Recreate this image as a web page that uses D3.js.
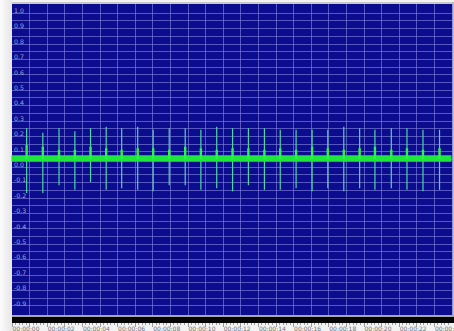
<!DOCTYPE html>
<html>
<head>
<meta charset="utf-8">
<script src="https://cdn.jsdelivr.net/npm/d3@7/dist/d3.min.js"></script>
<style>
  html, body { margin: 0; padding: 0; background: #f3f3f3; }
  svg { display: block; }
</style>
</head>
<body>
<svg id="chart" width="454" height="331"></svg>
<script>
// Amplitude axis labels (drawn every 0.1)
const ampTicks = [1.0, 0.9, 0.8, 0.7, 0.6, 0.5, 0.4, 0.3, 0.2, 0.1, 0.0,
                  -0.1, -0.2, -0.3, -0.4, -0.5, -0.6, -0.7, -0.8, -0.9];
// Timeline labels, in seconds
const timeTicks = [0, 2, 4, 6, 8, 10, 12, 14, 16, 18, 20, 22, 24];

// Pulse times (s) and their excursions
const pulseTime = [0.86, 1.78, 2.70, 3.60, 4.49, 5.38, 6.26, 7.17, 8.05, 8.96, 9.87, 10.76, 11.66, 12.56,
                   13.46, 14.37, 15.27, 16.17, 17.08, 17.97, 18.88, 19.78, 20.65, 21.58, 22.47, 23.38, 24.32];
const pulseTop = [0.20, 0.17, 0.20, 0.18, 0.20, 0.21, 0.20, 0.21, 0.19, 0.20, 0.20, 0.19, 0.21, 0.20,
                  0.20, 0.20, 0.19, 0.19, 0.19, 0.19, 0.21, 0.20, 0.19, 0.20, 0.20, 0.19, 0.19];
const pulseBottom = [-0.22, -0.22, -0.17, -0.20, -0.15, -0.20, -0.19, -0.20, -0.21, -0.17, -0.17, -0.20, -0.19, -0.21,
                     -0.17, -0.20, -0.20, -0.19, -0.21, -0.19, -0.21, -0.19, -0.20, -0.19, -0.20, -0.21, -0.20];
const pulseBump = [0.09, 0.08, 0.06, 0.06, 0.08, 0.07, 0.06, 0.07, 0.07, 0.06, 0.08, 0.07, 0.06, 0.07,
                   0.07, 0.06, 0.07, 0.06, 0.08, 0.07, 0.06, 0.07, 0.08, 0.06, 0.07, 0.06, 0.07];

// Resting signal band (low / high amplitude)
const bandLow = [-0.018];
const bandHigh = [0.024];

const svg = d3.select("#chart");
const W = 454, H = 331;
const plot = { left: 12, right: 452, top: 4, bottom: 315 };

const x = d3.scaleLinear().domain([0, 25]).range([11.5, 451.5]);
const y = d3.scaleLinear().domain([-1, 1]).range([313, 5]);

// soft left margin
const defs = svg.append("defs");
const lg = defs.append("linearGradient").attr("id", "margin").attr("x1", 0).attr("x2", 1);
lg.append("stop").attr("offset", 0).attr("stop-color", "#fbfbfb");
lg.append("stop").attr("offset", 1).attr("stop-color", "#e6e6e6");
svg.append("rect").attr("x", 0).attr("y", 0).attr("width", plot.left).attr("height", H).attr("fill", "url(#margin)");

// frame
svg.append("rect").attr("x", plot.left).attr("y", 2).attr("width", plot.right - plot.left + 2).attr("height", 2)
  .attr("fill", "#c9c9c9");

// waveform background
svg.append("rect").attr("x", plot.left).attr("y", plot.top)
  .attr("width", plot.right - plot.left).attr("height", plot.bottom - plot.top)
  .attr("fill", "#0c0c8f");

// right border
svg.append("rect").attr("x", plot.right).attr("y", 2).attr("width", 2).attr("height", plot.bottom - 2)
  .attr("fill", "#bdbdbd");

// grid
const grid = svg.append("g");
const hLines = d3.range(-20, 21).map(i => i * 0.05).filter(v => v < 0.999 && v > -0.999);
grid.selectAll("line.h").data(hLines).join("line")
  .attr("x1", plot.left).attr("x2", plot.right)
  .attr("y1", d => Math.round(y(d)) + 0.5).attr("y2", d => Math.round(y(d)) + 0.5)
  .attr("stroke", "#8080dc").attr("stroke-opacity", 0.65).attr("stroke-width", 1);
const vLines = d3.range(1, 26);
grid.selectAll("line.v").data(vLines).join("line")
  .attr("x1", d => Math.round(x(d)) + 0.5).attr("x2", d => Math.round(x(d)) + 0.5)
  .attr("y1", plot.top).attr("y2", plot.bottom)
  .attr("stroke", "#8080dc").attr("stroke-opacity", 0.65).attr("stroke-width", 1);

// amplitude labels
svg.append("g").selectAll("text").data(ampTicks).join("text")
  .attr("x", 14).attr("y", d => y(d) + 8)
  .attr("font-family", "DejaVu Sans, sans-serif").attr("font-size", 6.2)
  .attr("fill", "#a4a4cf")
  .text(d => d.toFixed(1));

const sig = svg.append("g");

// spikes
sig.selectAll("line.spike").data(pulseTime).join("line")
  .attr("x1", d => x(d)).attr("x2", d => x(d))
  .attr("y1", (d, i) => y(pulseTop[i])).attr("y2", (d, i) => y(pulseBottom[i]))
  .attr("stroke", "#4fd6a4").attr("stroke-width", 1.2);

// resting band
const area = d3.area().x(d => x(d)).y0(y(bandLow[0])).y1(y(bandHigh[0]));
sig.append("path").datum([0, 25]).attr("d", area).attr("fill", "#1fe63a");

// bright bumps where each pulse leaves the band
sig.selectAll("line.bump").data(pulseTime).join("line")
  .attr("x1", d => x(d)).attr("x2", d => x(d))
  .attr("y1", (d, i) => y(pulseBump[i])).attr("y2", y(0))
  .attr("stroke", "#2ef04a").attr("stroke-width", 2.4);

// timeline strip
svg.append("rect").attr("x", plot.left).attr("y", plot.bottom).attr("width", W - plot.left).attr("height", 2).attr("fill", "#a8a8a8");
svg.append("rect").attr("x", plot.left).attr("y", plot.bottom + 2).attr("width", W - plot.left).attr("height", 6).attr("fill", "#050505");

const minor = d3.range(0, 125).map(i => i * 0.2);
svg.append("g").selectAll("line").data(minor).join("line")
  .attr("x1", d => Math.round(x(d)) + 0.5).attr("x2", d => Math.round(x(d)) + 0.5)
  .attr("y1", 323).attr("y2", d => (Math.abs(d - Math.round(d)) < 1e-6 ? 327 : 325))
  .attr("stroke", "#9a9a9a").attr("stroke-width", 1);

svg.append("g").selectAll("text").data(timeTicks).join("text")
  .attr("x", d => x(d) + 1).attr("y", 331)
  .attr("font-family", "DejaVu Sans, sans-serif").attr("font-size", 6)
  .attr("fill", "#707070")
  .text(d => "00:00:" + String(d).padStart(2, "0"));
</script>
</body>
</html>
